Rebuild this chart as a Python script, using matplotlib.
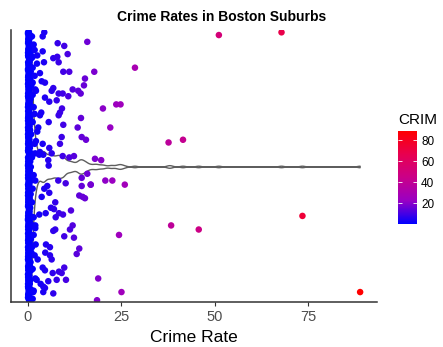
import numpy as np
import matplotlib
matplotlib.use("Agg")
import matplotlib.pyplot as plt
from matplotlib.colors import LinearSegmentedColormap, Normalize
from matplotlib.cm import ScalarMappable

plt.rcParams['font.family'] = ['Liberation Sans', 'DejaVu Sans']

# per capita crime rate (CRIM) with the vertical jitter of each point
crim_low = [0.03, 0.14, 0.06, 0.22, 0.09, 0.04, 0.31, 0.11, 0.02, 0.18,
            0.05, 0.12, 0.08, 0.27, 0.03, 0.16, 0.07, 0.21, 0.10, 0.04,
            0.13, 0.02, 0.25, 0.06, 0.09, 0.17, 0.03, 0.29, 0.11, 0.05,
            0.08, 0.19, 0.04, 0.14, 0.07, 0.23, 0.02, 0.12, 0.06, 0.26,
            0.09, 0.03, 0.15, 0.05, 0.20, 0.10, 0.04, 0.28, 0.07, 0.13,
            0.02, 0.16, 0.08, 0.24, 0.05, 0.11, 0.03, 0.18, 0.06, 0.30]
jit_low = [0.99, 0.96, 0.92, 0.89, 0.86, 0.82, 0.79, 0.76, 0.72, 0.69,
           0.66, 0.62, 0.59, 0.56, 0.52, 0.49, 0.46, 0.42, 0.39, 0.36,
           0.32, 0.29, 0.26, 0.22, 0.19, 0.16, 0.12, 0.09, 0.06, 0.02,
           -0.01, -0.04, -0.08, -0.11, -0.14, -0.18, -0.21, -0.24, -0.28, -0.31,
           -0.34, -0.38, -0.41, -0.44, -0.48, -0.51, -0.54, -0.58, -0.61, -0.64,
           -0.68, -0.71, -0.74, -0.78, -0.81, -0.84, -0.88, -0.91, -0.94, -0.98]

crim_sub0 = [0.01, 0.07, 0.04, 0.12, 0.02, 0.09, 0.05, 0.15, 0.03, 0.08,
             0.06, 0.02, 0.11, 0.04, 0.07, 0.13, 0.01, 0.05, 0.09, 0.03,
             0.14, 0.06, 0.02, 0.10, 0.04, 0.08, 0.12, 0.03, 0.06, 0.01,
             0.09, 0.05, 0.13, 0.02, 0.07, 0.04, 0.11, 0.08, 0.03, 0.15,
             0.05, 0.01, 0.10, 0.06, 0.03, 0.12, 0.07, 0.02, 0.09, 0.04,
             0.14, 0.05, 0.08, 0.01, 0.11, 0.03, 0.06, 0.13, 0.02]
jit_sub0 = [0.98, 0.94, 0.91, 0.87, 0.84, 0.81, 0.77, 0.74, 0.71, 0.67,
            0.64, 0.61, 0.57, 0.54, 0.51, 0.47, 0.44, 0.41, 0.37, 0.34,
            0.31, 0.27, 0.24, 0.21, 0.17, 0.14, 0.11, 0.07, 0.04, 0.01,
            -0.03, -0.06, -0.09, -0.13, -0.16, -0.19, -0.23, -0.26, -0.29, -0.33,
            -0.36, -0.39, -0.43, -0.46, -0.49, -0.53, -0.56, -0.59, -0.63, -0.66,
            -0.69, -0.73, -0.76, -0.79, -0.83, -0.86, -0.89, -0.93, -0.96]

crim_sub1 = [0.52, 0.38, 0.81, 0.45, 0.66, 0.95, 0.42, 0.58, 0.74, 0.49,
             0.61, 0.88, 0.40, 0.55, 0.70, 0.47, 0.92, 0.36, 0.63, 0.78,
             0.44, 0.57, 0.85, 0.39, 0.68, 0.51, 0.97, 0.43, 0.60, 0.76,
             0.48, 0.64, 0.90, 0.37, 0.54, 0.72, 0.46, 0.83, 0.59, 0.41,
             0.67, 0.50, 0.87, 0.35, 0.62, 0.79, 0.45, 0.56, 0.93, 0.40,
             0.69, 0.53, 0.82, 0.38, 0.65, 0.48, 0.75, 0.58, 0.43]
jit_sub1 = [0.97, 0.94, 0.90, 0.87, 0.84, 0.80, 0.77, 0.74, 0.70, 0.67,
            0.64, 0.60, 0.57, 0.54, 0.50, 0.47, 0.44, 0.40, 0.37, 0.34,
            0.30, 0.27, 0.24, 0.20, 0.17, 0.14, 0.10, 0.07, 0.04, 0.00,
            -0.03, -0.06, -0.10, -0.13, -0.16, -0.20, -0.23, -0.26, -0.30, -0.33,
            -0.36, -0.40, -0.43, -0.46, -0.50, -0.53, -0.56, -0.60, -0.63, -0.66,
            -0.70, -0.73, -0.76, -0.80, -0.83, -0.86, -0.90, -0.93, -0.96]

crim_sub2 = [0.24, 0.33, 0.19, 0.41, 0.28, 0.22, 0.36, 0.17, 0.30, 0.26,
             0.39, 0.21, 0.32, 0.18, 0.27, 0.44, 0.23, 0.35, 0.20, 0.29,
             0.25, 0.38, 0.16, 0.31, 0.24, 0.42, 0.19, 0.34, 0.27, 0.22,
             0.37, 0.18, 0.29, 0.25, 0.40, 0.21, 0.33, 0.17, 0.28, 0.35,
             0.23, 0.30, 0.19, 0.43, 0.26, 0.20, 0.32, 0.24, 0.38, 0.18,
             0.27, 0.34, 0.22, 0.29, 0.16, 0.36, 0.25, 0.31, 0.21]
jit_sub2 = [0.99, 0.95, 0.92, 0.88, 0.85, 0.82, 0.78, 0.75, 0.72, 0.68,
            0.65, 0.62, 0.58, 0.55, 0.52, 0.48, 0.45, 0.42, 0.38, 0.35,
            0.32, 0.28, 0.25, 0.22, 0.18, 0.15, 0.12, 0.08, 0.05, 0.02,
            -0.02, -0.05, -0.08, -0.12, -0.15, -0.18, -0.22, -0.25, -0.28, -0.32,
            -0.35, -0.38, -0.42, -0.45, -0.48, -0.52, -0.55, -0.58, -0.62, -0.65,
            -0.68, -0.72, -0.75, -0.78, -0.82, -0.85, -0.88, -0.92, -0.97]

crim_sub3 = [1.07, 1.53, 1.79, 1.26, 2.41, 1.26, 1.79, 1.26, 1.96, 1.26,
             1.53, 1.79, 1.26, 1.79, 1.96, 1.07, 1.53, 1.96, 1.26, 1.07,
             1.53, 1.26, 1.96, 1.53, 1.07, 1.79, 1.26, 1.96, 1.53, 1.26]
jit_sub3 = [0.96, 0.90, 0.86, 0.81, 0.76, 0.73, 0.67, 0.62, 0.57, 0.53,
            0.44, 0.39, 0.33, 0.17, 0.10, 0.07, -0.06, -0.10, -0.16, -0.26,
            -0.37, -0.43, -0.45, -0.50, -0.59, -0.65, -0.75, -0.82, -0.91, -0.97]

crim_mid = [4.37, 3.94, 7.96, 9.72, 15.89, 3.94, 2.49, 10.63, 6.78, 7.85,
            8.22, 4.29, 9.46, 11.06, 3.21, 15.27, 3.67, 4.55, 15.00, 6.78,
            6.35, 2.14, 11.97, 8.22, 9.30, 13.47, 14.12, 10.80, 4.55, 7.69,
            5.71, 9.11, 3.56, 8.57, 8.22, 3.21, 14.20, 5.55, 9.46, 13.31,
            2.76, 2.49, 9.03, 14.39, 15.54, 2.14, 3.94, 8.57, 5.71, 3.21,
            4.10, 6.35, 9.30, 11.06, 12.32, 5.44, 5.55, 3.03,
            14.39, 15.89, 8.12, 10.10, 14.39, 16.80, 5.17, 4.37, 5.71, 3.67,
            13.74, 14.65, 15.27, 7.31, 6.16, 6.96, 11.52, 8.30, 9.38, 3.03,
            4.74, 7.42, 1.96, 11.97, 11.25, 7.31, 6.78, 9.72, 12.32, 4.82,
            5.89, 2.06, 13.74, 13.05, 4.63, 5.89, 6.35, 2.60, 3.94, 4.55,
            9.72, 8.30, 9.03, 6.62, 2.33, 7.69, 10.18, 5.44, 3.40, 4.10,
            4.55, 6.78, 4.10, 1.42]
jit_mid = [0.99, 0.96, 0.91, 0.89, 0.92, 0.85, 0.82, 0.83, 0.80, 0.81,
           0.77, 0.77, 0.70, 0.70, 0.69, 0.65, 0.63, 0.62, 0.60, 0.58,
           0.56, 0.56, 0.57, 0.54, 0.54, 0.56, 0.54, 0.52, 0.51, 0.49,
           0.48, 0.43, 0.40, 0.40, 0.38, 0.38, 0.36, 0.33, 0.31, 0.29,
           0.29, 0.26, 0.22, 0.22, 0.20, 0.19, 0.17, 0.17, 0.14, 0.11,
           0.09, 0.10, 0.08, 0.07, 0.08, 0.05, 0.01, 0.09,
           -0.08, -0.05, -0.10, -0.12, -0.14, -0.13, -0.14, -0.16, -0.19, -0.22,
           -0.21, -0.22, -0.23, -0.26, -0.30, -0.31, -0.32, -0.34, -0.35, -0.35,
           -0.34, -0.37, -0.43, -0.43, -0.46, -0.46, -0.47, -0.51, -0.52, -0.57,
           -0.59, -0.57, -0.60, -0.64, -0.63, -0.65, -0.68, -0.68, -0.74, -0.76,
           -0.74, -0.77, -0.78, -0.78, -0.83, -0.83, -0.83, -0.84, -0.86, -0.88,
           -0.89, -0.93, -0.92, -0.92]

crim_high = [51.14, 67.92, 17.76, 28.66, 20.08, 23.65, 24.80, 22.05, 37.66, 41.53,
             17.95, 19.61, 16.81, 20.72, 22.60, 25.94, 38.35, 45.75, 73.53, 24.39,
             18.81, 25.05, 18.50, 88.98]
jit_high = [0.97, 0.99, 0.70, 0.73, 0.43, 0.46, 0.46, 0.29, 0.18, 0.20,
            0.06, 0.05, -0.13, -0.10, -0.10, -0.13, -0.43, -0.46, -0.36, -0.50,
            -0.82, -0.92, -0.98, -0.92]

crim = np.array(crim_low + crim_sub0 + crim_sub1 + crim_sub2 + crim_sub3
                + crim_mid + crim_high)
jitter = np.array(jit_low + jit_sub0 + jit_sub1 + jit_sub2 + jit_sub3
                  + jit_mid + jit_high)

# blue -> red gradient (interpolated through Lab-like purples)
grad = LinearSegmentedColormap.from_list(
    "crim", [(0.0, "#0000FF"), (0.25, "#9A00C3"), (0.5, "#CA0088"),
             (0.75, "#E8004F"), (1.0, "#FF0000")])
norm = Normalize(vmin=0, vmax=crim.max())

fig = plt.figure(figsize=(4.43, 3.47), dpi=100)
ax = fig.add_axes([0.0248, 0.1297, 0.8262, 0.7838])

# violin outline first, jittered points on top
vp = ax.violinplot([crim], positions=[0], orientation='horizontal', widths=2.5,
                   showextrema=False, bw_method=0.07, points=512)
for body in vp['bodies']:
    body.set_alpha(None)
    body.set_facecolor('none')
    body.set_edgecolor((0.1, 0.1, 0.1, 0.7))
    body.set_linewidth(1.0)
    body.set_zorder(1)

ax.scatter(crim, jitter, c=crim, cmap=grad, norm=norm, s=22, linewidths=0, zorder=2)

ax.set_xlim(-4.55, 93.5)
ax.set_ylim(-0.993, 1.007)
ax.set_xticks([0, 25, 50, 75])
ax.set_yticks([])
for side in ['top', 'right']:
    ax.spines[side].set_visible(False)
for side in ['left', 'bottom']:
    ax.spines[side].set_color('#333333')
    ax.spines[side].set_linewidth(1.1)
ax.tick_params(axis='x', length=3, width=0.8, color='#333333', labelsize=10.5,
               labelcolor='#4D4D4D', pad=3)
ax.set_xlabel('Crime Rate', fontsize=12.5, labelpad=4)

fig.text(0.501, 0.951, 'Crime Rates in Boston Suburbs', ha='center', va='center',
         fontsize=10, fontweight='bold')

# colour bar legend
cax = fig.add_axes([0.898, 0.3545, 0.043, 0.269])
cb = fig.colorbar(ScalarMappable(norm=norm, cmap=grad), cax=cax, ticks=[20, 40, 60, 80])
cb.outline.set_visible(False)
cax.tick_params(axis='y', left=True, right=True, direction='in', color='white',
                length=3, width=0.6, labelsize=8.5, pad=3)
fig.text(0.898, 0.655, 'CRIM', ha='left', va='center', fontsize=11)

fig.savefig('out.png', dpi=100)
